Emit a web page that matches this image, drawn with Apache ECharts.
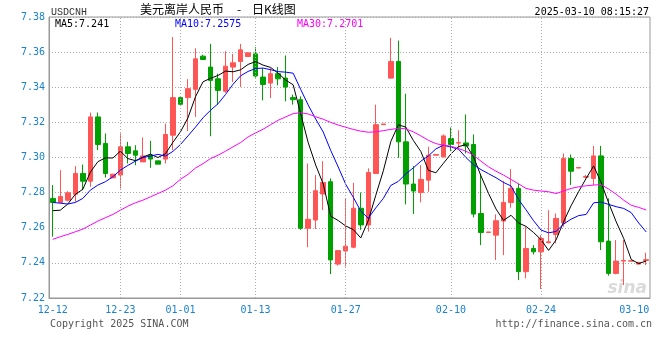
<!DOCTYPE html>
<html><head><meta charset="utf-8">
<script src="https://cdn.jsdelivr.net/npm/echarts@6/dist/echarts.min.js"></script>
<style>html,body{margin:0;padding:0;background:#fff}#c{width:660px;height:360px}</style>
</head><body><div id="c"></div>
<script>
const categories = ['12-12','12-13','12-14','12-16','12-17','12-18','12-19','12-20','12-21','12-23','12-24','12-25','12-26','12-27','12-28','12-30','12-31','01-01','01-02','01-03','01-04','01-06','01-07','01-08','01-09','01-10','01-11','01-13','01-14','01-15','01-16','01-17','01-18','01-20','01-21','01-22','01-23','01-24','01-25','01-27','01-28','01-29','01-30','01-31','02-01','02-02','02-03','02-04','02-05','02-06','02-07','02-08','02-09','02-10','02-11','02-12','02-13','02-14','02-15','02-17','02-18','02-19','02-20','02-21','02-22','02-24','02-25','02-26','02-27','02-28','03-01','03-02','03-03','03-04','03-05','03-06','03-07','03-08','03-09','03-10'];
const openVals = [7.2767,7.2744,7.2757,7.2791,7.2909,7.2865,7.3231,7.3080,7.2884,7.2900,7.3061,7.3038,7.2975,7.3013,7.2981,7.2991,7.3127,7.3341,7.3341,7.3388,7.3577,7.3515,7.3448,7.3377,7.3515,7.3547,7.3575,7.3590,7.3458,7.3424,7.3477,7.3452,7.3341,7.3329,7.2597,7.2644,7.2792,7.2862,7.2393,7.2468,7.2489,7.2711,7.2616,7.2909,7.3187,7.3452,7.3547,7.3089,7.2849,7.2801,7.2871,7.3013,7.3004,7.3108,7.3082,7.3083,7.3074,7.2681,7.2573,7.2558,7.2638,7.2744,7.2824,7.2350,7.2482,7.2463,7.2515,7.2562,7.2628,7.2994,7.2940,7.2888,7.2881,7.3009,7.2524,7.2340,7.2410,7.2410,7.2393,7.2414];
const closeVals = [7.2744,7.2778,7.2799,7.2909,7.2865,7.3231,7.3074,7.2909,7.2905,7.3061,7.3023,7.3013,7.3009,7.2991,7.2962,7.3131,7.3341,7.3303,7.3392,7.3562,7.3558,7.3439,7.3382,7.3520,7.3539,7.3613,7.3596,7.3464,7.3416,7.3477,7.3448,7.3401,7.3329,7.2597,7.2648,7.2811,7.2858,7.2417,7.2470,7.2495,7.2711,7.2616,7.2915,7.3187,7.3191,7.3547,7.3089,7.2849,7.2809,7.2875,7.3013,7.3017,7.3123,7.3074,7.3085,7.3066,7.2678,7.2573,7.2576,7.2640,7.2744,7.2824,7.2350,7.2482,7.2463,7.2539,7.2520,7.2653,7.2994,7.2922,7.2943,7.2892,7.3009,7.2520,7.2340,7.2410,7.2414,7.2412,7.2403,7.2418];
const lowVals = [7.2549,7.2740,7.2750,7.2748,7.2814,7.2833,7.3042,7.2886,7.2884,7.2824,7.2966,7.2956,7.2975,7.2941,7.2962,7.2966,7.3042,7.3303,7.3150,7.3231,7.3558,7.3121,7.3301,7.3369,7.3429,7.3401,7.3575,7.3455,7.3325,7.3339,7.3411,7.3320,7.3301,7.2588,7.2489,7.2593,7.2701,7.2336,7.2385,7.2379,7.2483,7.2588,7.2578,7.2909,7.3187,7.3448,7.2998,7.2733,7.2678,7.2745,7.2805,7.3013,7.3000,7.3036,7.3051,7.3023,7.2659,7.2501,7.2573,7.2416,7.2444,7.2714,7.2302,7.2312,7.2448,7.2251,7.2511,7.2511,7.2606,7.2843,7.2940,7.2881,7.2843,7.2473,7.2327,7.2335,7.2274,7.2410,7.2393,7.2388];
const highVals = [7.2843,7.2928,7.2808,7.2951,7.2960,7.3256,7.3256,7.3137,7.2905,7.3137,7.3089,7.3070,7.3114,7.3095,7.2981,7.3193,7.3686,7.3341,7.3446,7.3622,7.3585,7.3647,7.3477,7.3605,7.3590,7.3647,7.3596,7.3628,7.3509,7.3509,7.3515,7.3581,7.3358,7.3348,7.2966,7.2900,7.2979,7.2881,7.2470,7.2767,7.2856,7.2801,7.2938,7.3301,7.3191,7.3681,7.3666,7.3363,7.2951,7.2956,7.3061,7.3017,7.3131,7.3171,7.3155,7.3245,7.3131,7.2905,7.2576,7.2676,7.2867,7.2934,7.2852,7.2606,7.2501,7.2558,7.2700,7.2681,7.3023,7.3017,7.2943,7.2900,7.3066,7.3066,7.2767,7.2530,7.2530,7.2412,7.2403,7.2458];
const ma5 = [7.2697,7.2700,7.2735,7.2790,7.2819,7.2916,7.2976,7.2998,7.2997,7.3036,7.2994,7.2982,7.3002,7.3019,7.3000,7.3021,7.3087,7.3146,7.3226,7.3346,7.3431,7.3451,7.3467,7.3492,7.3488,7.3499,7.3530,7.3546,7.3526,7.3513,7.3480,7.3441,7.3414,7.3250,7.3085,7.2957,7.2849,7.2666,7.2641,7.2610,7.2590,7.2542,7.2641,7.2785,7.2924,7.3091,7.3186,7.3173,7.3097,7.3034,7.2927,7.2913,7.2967,7.3020,7.3062,7.3073,7.3005,7.2895,7.2796,7.2707,7.2642,7.2671,7.2627,7.2608,7.2573,7.2532,7.2471,7.2531,7.2634,7.2726,7.2806,7.2881,7.2952,7.2857,7.2741,7.2634,7.2539,7.2419,7.2396,7.2411];
const ma10 = [7.2744,7.2740,7.2735,7.2744,7.2767,7.2814,7.2843,7.2862,7.2890,7.2928,7.2955,7.2979,7.3000,7.3008,7.3018,7.3008,7.3035,7.3074,7.3123,7.3173,7.3226,7.3269,7.3306,7.3359,7.3417,7.3465,7.3490,7.3507,7.3509,7.3500,7.3489,7.3486,7.3480,7.3388,7.3299,7.3219,7.3145,7.3040,7.2946,7.2847,7.2774,7.2695,7.2654,7.2713,7.2767,7.2841,7.2864,7.2907,7.2941,7.2979,7.3009,7.3049,7.3070,7.3059,7.3048,7.3000,7.2959,7.2931,7.2908,7.2885,7.2858,7.2838,7.2761,7.2702,7.2640,7.2587,7.2571,7.2579,7.2621,7.2649,7.2669,7.2676,7.2742,7.2746,7.2733,7.2720,7.2710,7.2686,7.2627,7.2576];
const ma30 = [7.2534,7.2549,7.2562,7.2577,7.2592,7.2615,7.2638,7.2657,7.2676,7.2700,7.2723,7.2742,7.2757,7.2776,7.2795,7.2814,7.2839,7.2876,7.2904,7.2940,7.2965,7.2994,7.3013,7.3036,7.3061,7.3085,7.3117,7.3140,7.3161,7.3187,7.3212,7.3231,7.3250,7.3255,7.3248,7.3232,7.3218,7.3200,7.3185,7.3172,7.3160,7.3150,7.3144,7.3146,7.3153,7.3160,7.3166,7.3163,7.3146,7.3123,7.3098,7.3079,7.3070,7.3064,7.3051,7.3036,7.3013,7.2979,7.2947,7.2922,7.2900,7.2875,7.2850,7.2824,7.2814,7.2809,7.2805,7.2795,7.2809,7.2824,7.2833,7.2839,7.2843,7.2846,7.2820,7.2791,7.2757,7.2728,7.2716,7.2701];
const tickLabels = ['12-12','12-23','01-01','01-13','01-27','02-10','02-24','03-10'];
const gridDates = ['12-23','01-01','01-13','01-27','02-10','02-24'];
const yMin = 7.22, yMax = 7.38, yStep = 0.02;
const legendTexts = ['MA5:7.241','MA10:7.2575','MA30:7.2701'];
const lineColors = ['#000000','#0000ff','#ff00ff'];
const titleParts = ['美元离岸人民币', '-', '日K线图'];

const candles = categories.map((_, i) => [openVals[i], closeVals[i], lowVals[i], highVals[i]]);
const mono = 'DejaVu Sans Mono';
const labelBlue = '#1a82d0';
const chart = echarts.init(document.getElementById('c'), null, {renderer:'canvas'});
const lineSeries = [ma5, ma10, ma30].map((d, k) => ({
  type:'line', data:d, showSymbol:false, symbol:'none', silent:true,
  lineStyle:{color:lineColors[k], width:1}, z:3
}));
const cjk = '12px "Noto Sans CJK SC"';
chart.setOption({
  animation:false,
  backgroundColor:'#ffffff',
  grid:{left:49, right:10, top:17, bottom:62, show:true, borderColor:'#999', borderWidth:1, backgroundColor:'transparent'},
  xAxis:{
    type:'category', data:categories, boundaryGap:true,
    axisLine:{lineStyle:{color:'#999', width:1}},
    axisTick:{show:false},
    splitLine:{show:false},
    axisLabel:{
      interval:(i, v) => tickLabels.includes(v),
      color:labelBlue, fontFamily:mono, fontSize:10, margin:7,
      formatter:(v) => v === tickLabels[tickLabels.length-1] ? '{e|' + v + '}' : v,
      rich:{e:{padding:[0,24,0,0], color:labelBlue, fontFamily:mono, fontSize:10}}
    }
  },
  yAxis:{
    type:'value', min:yMin, max:yMax, interval:yStep, scale:true,
    axisLine:{show:true, lineStyle:{color:'#999'}},
    axisTick:{show:false},
    axisLabel:{color:labelBlue, fontFamily:mono, fontSize:10, margin:4, formatter:(v) => v.toFixed(2)},
    splitLine:{lineStyle:{type:[1,2], color:'#aaa', width:1}}
  },
  series:[
    {
      type:'candlestick', data:candles, barWidth:5, silent:true,
      itemStyle:{color:'#ff5555', color0:'#00a000', borderColor:'#ff5555', borderColor0:'#00a000', borderWidth:1},
      markLine:{
        silent:true, symbol:'none', label:{show:false}, animation:false,
        lineStyle:{type:[1,2], color:'#aaa', width:1},
        data:gridDates.map(d => ({xAxis:d}))
      },
      z:2
    },
    ...lineSeries
  ],
  graphic:[
    {type:'text', x:51, y:12, style:{text:'USDCNH', font:'10px "Liberation Mono"', fill:'#333', verticalAlign:'middle'}},
    {type:'text', x:140, y:9, style:{text:titleParts[0], font:cjk, fill:'#000', verticalAlign:'middle'}},
    {type:'text', x:239, y:9, style:{text:titleParts[1], font:cjk, fill:'#000', align:'center', verticalAlign:'middle'}},
    {type:'text', x:252, y:9, style:{text:titleParts[2], font:cjk, fill:'#000', verticalAlign:'middle'}},
    {type:'text', x:649, y:12, style:{text:'2025-03-10 08:15:27', font:'10px "DejaVu Sans Mono"', fill:'#000', align:'right', verticalAlign:'middle'}},
    {type:'text', x:55, y:24, style:{text:legendTexts[0], font:'10px "DejaVu Sans Mono"', fill:lineColors[0], verticalAlign:'middle'}},
    {type:'text', x:175, y:24, style:{text:legendTexts[1], font:'10px "DejaVu Sans Mono"', fill:lineColors[1], verticalAlign:'middle'}},
    {type:'text', x:297, y:24, style:{text:legendTexts[2], font:'10px "DejaVu Sans Mono"', fill:lineColors[2], verticalAlign:'middle'}},
    {type:'text', x:50, y:324, style:{text:'Copyright 2025 SINA.COM', font:'10px "DejaVu Sans Mono"', fill:'#555', verticalAlign:'middle'}},
    {type:'text', x:652, y:324, style:{text:'http://finance.sina.com.cn', font:'10px "DejaVu Sans Mono"', fill:'#555', align:'right', verticalAlign:'middle'}},
    {type:'text', x:647, y:289, z:0, style:{text:'sina', font:'italic bold 17px "DejaVu Sans"', fill:'rgba(150,150,150,0.35)', align:'right', verticalAlign:'middle'}}
  ]
});
</script></body></html>
